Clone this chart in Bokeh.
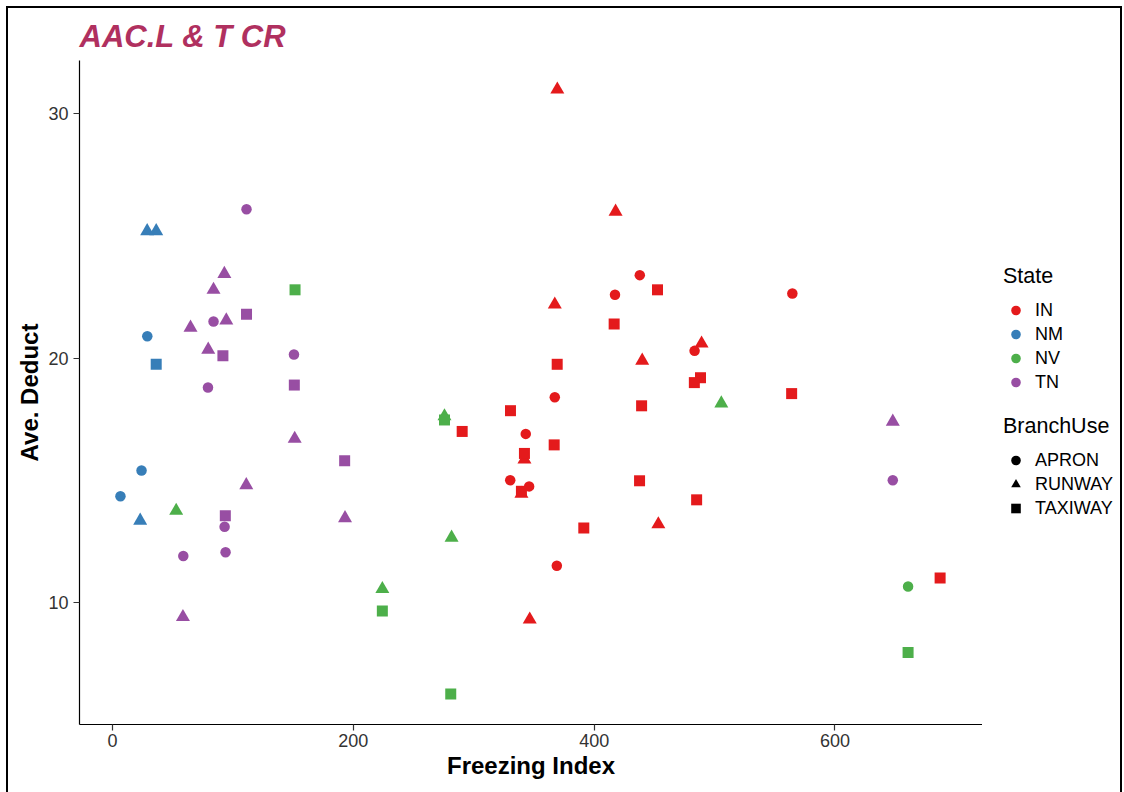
import numpy as np
from bokeh.plotting import figure
from bokeh.layouts import row
from bokeh.models import ColumnDataSource, Legend, LegendItem, FixedTicker, Range1d
from bokeh.embed import file_html
from bokeh.resources import INLINE

# ---------------- data ----------------
states = ["IN", "NM", "NV", "TN"]
state_colors = ["#E41A1C", "#377EB8", "#4DAF4A", "#984EA3"]
branch_uses = ["APRON", "RUNWAY", "TAXIWAY"]
branch_markers = ["circle", "triangle", "square"]

in_freeze = [369.4, 417.8, 437.9, 452.6, 417.3, 367.3, 416.6, 564.6, 489.2, 483.4,
             439.9, 369.3, 488.3, 483.2, 367.3, 439.4, 330.5, 290.4, 343.2, 366.8,
             342.1, 342.1, 330.3, 346.0, 339.6, 339.6, 437.7, 485.1, 453.3, 391.4,
             369.0, 346.5, 564.0, 687.3]
in_deduct = [31.0, 26.0, 23.4, 22.8, 22.6, 22.2, 21.4, 22.65, 20.6, 20.3,
             19.9, 19.75, 19.2, 19.0, 18.4, 18.05, 17.85, 17.0, 16.9, 16.45,
             15.85, 16.1, 15.0, 14.75, 14.45, 14.55, 14.98, 14.2, 13.2, 13.05,
             11.5, 9.3, 18.55, 11.0]
in_use = ["RUNWAY", "RUNWAY", "APRON", "TAXIWAY", "APRON", "RUNWAY", "TAXIWAY", "APRON", "RUNWAY", "APRON",
          "RUNWAY", "TAXIWAY", "TAXIWAY", "TAXIWAY", "APRON", "TAXIWAY", "TAXIWAY", "TAXIWAY", "APRON", "TAXIWAY",
          "RUNWAY", "TAXIWAY", "APRON", "APRON", "RUNWAY", "TAXIWAY", "TAXIWAY", "TAXIWAY", "RUNWAY", "TAXIWAY",
          "APRON", "RUNWAY", "TAXIWAY", "TAXIWAY"]

nm_freeze = [28.8, 36.3, 28.9, 36.3, 24.1, 6.6, 23.0]
nm_deduct = [25.2, 25.2, 20.9, 19.75, 15.4, 14.35, 13.35]
nm_use = ["RUNWAY", "RUNWAY", "APRON", "TAXIWAY", "APRON", "APRON", "RUNWAY"]

nv_freeze = [151.6, 52.9, 224.1, 224.1, 280.9, 275.7, 275.7, 281.6, 505.6, 660.7, 660.7]
nv_deduct = [22.8, 13.75, 10.55, 9.65, 6.25, 17.62, 17.47, 12.65, 18.15, 10.65, 7.95]
nv_use = ["TAXIWAY", "RUNWAY", "RUNWAY", "TAXIWAY", "TAXIWAY", "RUNWAY", "TAXIWAY", "RUNWAY", "RUNWAY", "APRON", "TAXIWAY"]

tn_freeze = [111.3, 92.9, 83.9, 111.3, 83.9, 94.5, 64.8, 79.5, 91.7, 150.7,
             79.3, 151.0, 151.3, 111.1, 93.7, 93.1, 93.9, 58.8, 58.5, 192.8,
             193.1, 648.0, 648.0]
tn_deduct = [26.1, 23.45, 22.8, 21.8, 21.5, 21.55, 21.25, 20.35, 20.1, 20.15,
             18.8, 18.9, 16.7, 14.8, 13.55, 13.1, 12.05, 11.9, 9.4, 15.8,
             13.45, 17.4, 15.0]
tn_use = ["APRON", "RUNWAY", "RUNWAY", "TAXIWAY", "APRON", "RUNWAY", "RUNWAY", "RUNWAY", "TAXIWAY", "APRON",
          "APRON", "TAXIWAY", "RUNWAY", "RUNWAY", "TAXIWAY", "APRON", "APRON", "APRON", "RUNWAY", "TAXIWAY",
          "RUNWAY", "RUNWAY", "APRON"]

x_ticks = [0, 200, 400, 600]
y_ticks = [10, 20, 30]
x_limits = (-27.4, 722.5)
y_limits = (5.0, 32.19)

# ---------------- build source ----------------
groups = {
    "IN": (in_freeze, in_deduct, in_use),
    "NM": (nm_freeze, nm_deduct, nm_use),
    "NV": (nv_freeze, nv_deduct, nv_use),
    "TN": (tn_freeze, tn_deduct, tn_use),
}
marker_of = dict(zip(branch_uses, branch_markers))
color_of = dict(zip(states, state_colors))
size_of = {"circle": 10.5, "triangle": 14, "square": 11}

xs, ys, cols, marks, sizes, st, bu = [], [], [], [], [], [], []
for s in states:
    fx, dy, use = groups[s]
    for a, b, u in zip(fx, dy, use):
        xs.append(a); ys.append(b); st.append(s); bu.append(u)
        cols.append(color_of[s]); marks.append(marker_of[u]); sizes.append(size_of[marker_of[u]])

src = ColumnDataSource(dict(x=xs, y=ys, color=cols, marker=marks, size=sizes, state=st, use=bu))

FONT = "Liberation Sans"

W_MAIN, W_LEG, H = 974, 138, 784
LEFT, TOP, BOTTOM = 71, 52, 68

p = figure(width=W_MAIN, height=H,
           x_range=Range1d(*x_limits), y_range=Range1d(*y_limits),
           output_backend="svg", toolbar_location=None,
           min_border_left=LEFT, min_border_right=0, min_border_top=TOP, min_border_bottom=BOTTOM,
           title="AAC.L & T CR")

p.title.text_font = FONT
p.title.text_font_size = "31px"
p.title.text_font_style = "bold italic"
p.title.text_color = "#B0305F"
p.title.align = "left"
p.title.vertical_align = "top"
p.title.standoff = 10

p.xgrid.visible = False
p.ygrid.visible = False
p.outline_line_color = None
p.background_fill_color = "white"
p.border_fill_color = "white"

for ax in (p.xaxis[0], p.yaxis[0]):
    ax.axis_line_color = "black"
    ax.axis_line_width = 1.2
    ax.major_tick_line_color = "#333333"
    ax.major_tick_line_width = 1.2
    ax.major_tick_in = 0
    ax.major_tick_out = 6
    ax.minor_tick_line_color = None
    ax.major_label_text_font = FONT
    ax.major_label_text_font_size = "18px"
    ax.major_label_text_color = "#333333"
    ax.axis_label_text_font = FONT
    ax.axis_label_text_font_size = "24px"
    ax.axis_label_text_font_style = "bold"
    ax.axis_label_text_color = "black"

p.xaxis.ticker = FixedTicker(ticks=x_ticks)
p.yaxis.ticker = FixedTicker(ticks=y_ticks)
p.xaxis.axis_label = "Freezing Index"
p.yaxis.axis_label = "Ave. Deduct"
p.xaxis.major_label_standoff = 3
p.yaxis.major_label_standoff = 5
p.xaxis.axis_label_standoff = 2
p.yaxis.axis_label_standoff = 2

p.scatter(x="x", y="y", marker="marker", size="size", fill_color="color",
          line_color=None, source=src)

# ---------------- legend panel ----------------
pl = figure(width=W_LEG, height=H, x_range=Range1d(0, 1), y_range=Range1d(0, 1),
            output_backend="svg", toolbar_location=None, min_border=0)
pl.axis.visible = False
pl.xgrid.visible = False
pl.ygrid.visible = False
pl.outline_line_color = None
pl.background_fill_color = "white"
pl.border_fill_color = "white"

# legend proxies (not drawn: NaN positions)
state_items = []
for s, c in zip(states, state_colors):
    r = pl.scatter(x=[np.nan], y=[np.nan], marker="circle", size=10, fill_color=c, line_color=None)
    state_items.append(LegendItem(label=s, renderers=[r]))
use_items = []
for u, m in zip(branch_uses, branch_markers):
    r = pl.scatter(x=[np.nan], y=[np.nan], marker=m, size=10, fill_color="black", line_color=None)
    use_items.append(LegendItem(label=u, renderers=[r]))


def make_legend(items, title, loc):
    lg = Legend(items=items, title=title, location=loc)
    lg.title_text_font = FONT
    lg.title_text_font_size = "21.5px"
    lg.title_text_font_style = "normal"
    lg.title_text_color = "black"
    lg.title_standoff = 9
    lg.label_text_font = FONT
    lg.label_text_font_size = "18px"
    lg.label_text_color = "black"
    lg.glyph_width = 25
    lg.glyph_height = 24
    lg.label_height = 24
    lg.label_standoff = 7
    lg.spacing = 0
    lg.padding = 0
    lg.margin = 0
    lg.border_line_color = None
    lg.background_fill_alpha = 0
    return lg


pl.add_layout(make_legend(state_items, "State", (21, 330)))
pl.add_layout(make_legend(use_items, "BranchUse", (21, 204)))

layout = row(p, pl, spacing=0)
layout.styles = {"margin-left": "6px", "margin-top": "6px",
                 "border-left": "2px solid black", "border-top": "2px solid black",
                 "border-right": "2px solid black", "box-sizing": "content-box"}

open("out.html", "w").write(file_html(layout, INLINE))
